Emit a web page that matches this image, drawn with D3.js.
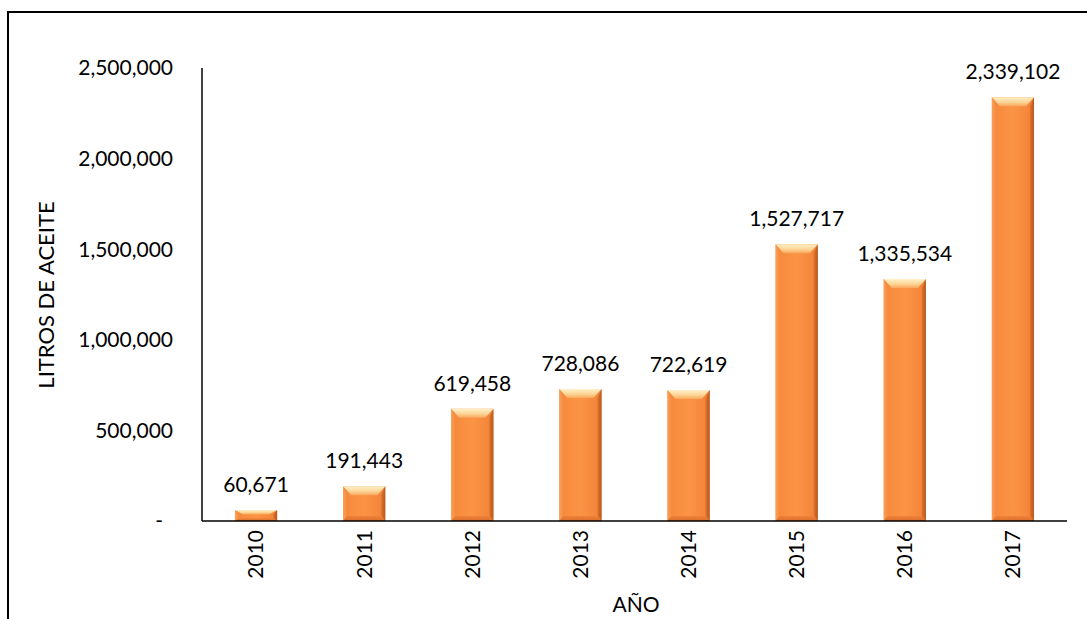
<!DOCTYPE html>
<html>
<head>
<meta charset="utf-8">
<script src="https://cdn.jsdelivr.net/npm/d3@7"></script>
<style>
  html, body { margin: 0; padding: 0; background: #fff; }
  svg text { font-family: Lato, "Open Sans", sans-serif; fill: #000; }
</style>
</head>
<body>
<svg id="chart" width="1087" height="619"></svg>
<script>
// Oil volume per year
const years = ["2010", "2011", "2012", "2013", "2014", "2015", "2016", "2017"];
const litros = [60671, 191443, 619458, 728086, 722619, 1527717, 1335534, 2339102];
const yTicks = [0, 500000, 1000000, 1500000, 2000000, 2500000];

const svg = d3.select("#chart");
const W = 1087, H = 619;
const plot = { left: 202, right: 1067, top: 68, bottom: 521 };
const FS = 21;

// outer frame (left and top edges visible)
svg.append("path")
  .attr("d", `M8,${H} L8,12 L${W},12`)
  .attr("fill", "none").attr("stroke", "#000").attr("stroke-width", 2);

const x = d3.scaleBand().domain(years).range([plot.left, plot.right]).paddingInner(0.61).paddingOuter(0.305);
const y = d3.scaleLinear().domain([0, 2500000]).range([plot.bottom, plot.top]);

const fmt = d3.format(",");

// gradients for the bevelled bars
const defs = svg.append("defs");
function lin(id, x1, y1, x2, y2, stops) {
  const g = defs.append("linearGradient").attr("id", id)
    .attr("x1", x1).attr("y1", y1).attr("x2", x2).attr("y2", y2);
  stops.forEach(s => g.append("stop").attr("offset", s[0]).attr("stop-color", s[1]));
}
lin("face", "0", "0", "1", "0", [["0", "#f5883a"], ["0.5", "#fb9446"], ["1", "#f18136"]]);
lin("topBev", "0", "0", "0", "1", [["0", "#fff1c8"], ["0.55", "#fdd596"], ["1", "#f8a85c"]]);
lin("leftBev", "0", "0", "1", "0", [["0", "#f9a05a"], ["1", "#f68c3e"]]);
lin("rightBev", "0", "0", "1", "0", [["0", "#e0702c"], ["1", "#b45a22"]]);
lin("botBev", "0", "0", "0", "1", [["0", "#f08238"], ["1", "#d96f2c"]]);

// y axis labels
svg.append("g").selectAll("text").data(yTicks).join("text")
  .attr("x", d => d === 0 ? 163 : 173)
  .attr("y", d => y(d))
  .attr("dy", "0.35em")
  .attr("text-anchor", "end")
  .attr("font-size", FS)
  .text(d => d === 0 ? "-" : fmt(d));

// bars
const bw = x.bandwidth();
const rows = years.map((yr, i) => ({ yr, v: litros[i] }));
const bars = svg.append("g").selectAll("g").data(rows).join("g");
bars.each(function (d) {
  const g = d3.select(this);
  const x0 = x(d.yr), x1 = x0 + bw, y0 = y(d.v), y1 = y(0);
  const h = y1 - y0;
  const tb = Math.min(9, h * 0.4), sb = 4, bb = Math.min(5, h * 0.25);
  g.append("rect").attr("x", x0).attr("y", y0).attr("width", bw).attr("height", h).attr("fill", "url(#face)");
  const poly = pts => pts.map(p => p.join(",")).join(" ");
  // left side
  g.append("polygon").attr("points", poly([[x0, y0], [x0 + sb, y0 + tb], [x0 + sb, y1 - bb], [x0, y1]])).attr("fill", "url(#leftBev)");
  // right side
  g.append("polygon").attr("points", poly([[x1, y0], [x1 - sb, y0 + tb], [x1 - sb, y1 - bb], [x1, y1]])).attr("fill", "url(#rightBev)");
  // bottom
  g.append("polygon").attr("points", poly([[x0, y1], [x0 + sb, y1 - bb], [x1 - sb, y1 - bb], [x1, y1]])).attr("fill", "url(#botBev)");
  // top
  g.append("polygon").attr("points", poly([[x0, y0], [x1, y0], [x1 - sb - 4, y0 + tb], [x0 + sb + 4, y0 + tb]])).attr("fill", "url(#topBev)");
});

// value labels
svg.append("g").selectAll("text").data(rows).join("text")
  .attr("x", d => x(d.yr) + bw / 2)
  .attr("y", d => y(d.v) - 18)
  .attr("text-anchor", "middle")
  .attr("font-size", FS)
  .text(d => fmt(d.v));

// axis lines
svg.append("line").attr("x1", plot.left).attr("x2", plot.left).attr("y1", plot.top).attr("y2", plot.bottom)
  .attr("stroke", "#000").attr("stroke-width", 1.5);
svg.append("line").attr("x1", plot.left).attr("x2", plot.right).attr("y1", plot.bottom).attr("y2", plot.bottom)
  .attr("stroke", "#000").attr("stroke-width", 1.5);

// x labels (rotated)
svg.append("g").selectAll("text").data(years).join("text")
  .attr("transform", d => `translate(${x(d) + bw / 2},530) rotate(-90)`)
  .attr("dy", "0.35em")
  .attr("text-anchor", "end")
  .attr("font-size", FS)
  .text(d => d);

// axis titles
svg.append("text").attr("x", 636).attr("y", 612).attr("text-anchor", "middle").attr("font-size", FS).text("AÑO");
svg.append("text").attr("transform", "translate(54,295) rotate(-90)").attr("text-anchor", "middle")
  .attr("font-size", 22).text("LITROS DE ACEITE");
</script>
</body>
</html>
